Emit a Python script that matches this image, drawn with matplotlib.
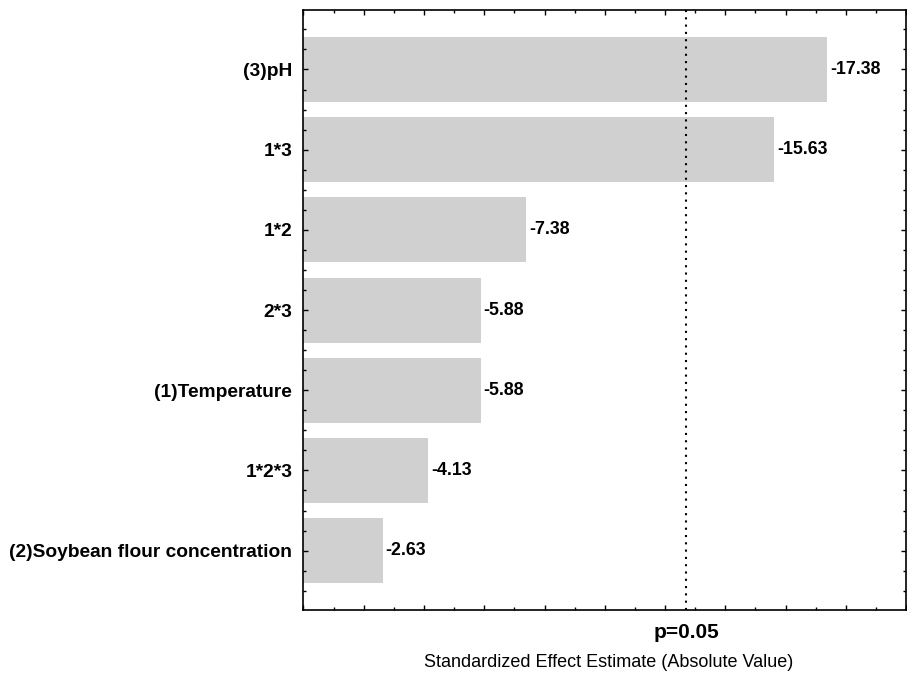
import matplotlib
matplotlib.use('Agg')
import matplotlib.pyplot as plt
from matplotlib.ticker import MultipleLocator, NullFormatter
import numpy as np

plt.rcParams['font.family'] = ['Liberation Sans', 'DejaVu Sans']

factors = ['(3)pH', '1*3', '1*2', '2*3', '(1)Temperature', '1*2*3',
           '(2)Soybean flour concentration']
effects = [17.38, 15.63, 7.38, 5.88, 5.88, 4.13, 2.63]
labels = ['-17.38', '-15.63', '-7.38', '-5.88', '-5.88', '-4.13', '-2.63']
p_crit = 12.706  # t(0.975, df=1)

fig = plt.figure(figsize=(9.07, 6.74), dpi=100)
ax = fig.add_axes([0.3346, 0.095, 0.6644, 0.890])

ypos = np.arange(len(factors))
ax.barh(ypos, effects, height=0.81, color='#cfd0cf', edgecolor='none')
for y, v, t in zip(ypos, effects, labels):
    ax.text(v + 0.1, y, t, va='center', ha='left', fontsize=12.8, fontweight='bold')

ax.axvline(p_crit, color='black', ls=(0, (1, 2.5)), lw=1.5)

ax.set_xlim(0, 20)
ax.set_ylim(6.74, -0.74)
ax.set_yticks(ypos)
ax.set_yticklabels(factors, fontsize=13.8, fontweight='bold')
ax.yaxis.set_minor_locator(MultipleLocator(0.25))
ax.xaxis.set_major_locator(MultipleLocator(2))
ax.xaxis.set_minor_locator(MultipleLocator(1))
ax.xaxis.set_major_formatter(NullFormatter())

ax.tick_params(which='both', direction='in', top=True, right=True, width=1)
ax.tick_params(which='major', length=3.5)
ax.tick_params(which='minor', length=2)
ax.tick_params(axis='y', which='major', pad=8)
for s in ax.spines.values():
    s.set_linewidth(1.2)

ax.text(p_crit, -0.038, 'p=0.05', transform=ax.get_xaxis_transform(),
        ha='center', va='center', fontsize=15, fontweight='bold')
ax.text(0.507, -0.087, 'Standardized Effect Estimate (Absolute Value)',
        transform=ax.transAxes, ha='center', va='center', fontsize=13)

fig.savefig('out.png', dpi=100)
